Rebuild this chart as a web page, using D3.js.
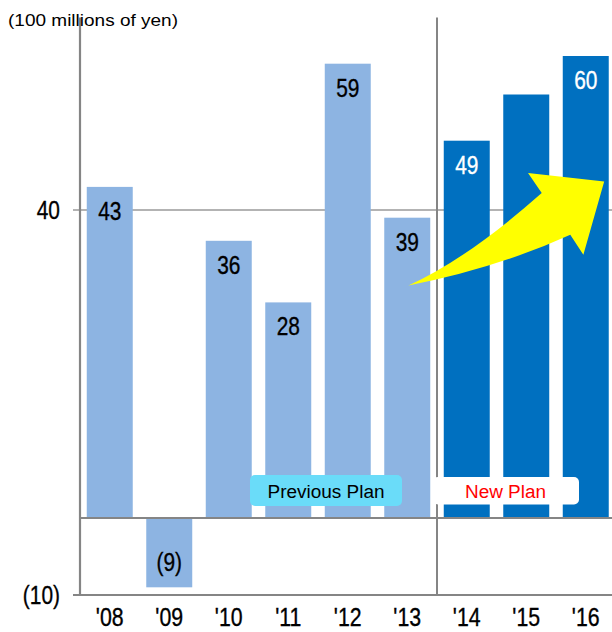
<!DOCTYPE html>
<html>
<head>
<meta charset="utf-8">
<script src="https://cdn.jsdelivr.net/npm/d3@7"></script>
<style>
  html, body { margin: 0; padding: 0; background: #fff; }
  svg { display: block; }
</style>
</head>
<body>
<div id="chart"></div>
<script>
// Fiscal years and results (100 millions of yen)
const years = ["'08", "'09", "'10", "'11", "'12", "'13", "'14", "'15", "'16"];
const values = [43, -9, 36, 28, 59, 39, 49, 55, 60];
const valueLabels = ["43", "(9)", "36", "28", "59", "39", "49", "", "60"];
const plan = ["prev", "prev", "prev", "prev", "prev", "prev", "new", "new", "new"];
const yTicks = [40, 0, -10];
const yTickLabels = ["40", "", "(10)"];
const unitLabel = "(100 millions of yen)";
const legendLabels = ["Previous Plan", "New Plan"];

// Growth arrow outline, as [year index, value] pairs
const arrowTail = [5.02, 30.2];
const arrowUpperCtrl = [6.0, 33.6];
const arrowUpperNotch = [7.26, 42.2];
const arrowUpperBarb = [7.03, 44.8];
const arrowTip = [8.31, 43.7];
const arrowLowerBarb = [7.96, 34.2];
const arrowLowerNotch = [7.74, 36.8];
const arrowLowerCtrl = [6.49, 32.4];

const W = 612, H = 632;
const textFont = "'Liberation Sans', Arial, sans-serif";
const narrow = 0.82; // horizontal squeeze for the condensed numerals
const lightBlue = "#8DB4E2", darkBlue = "#0070C0", gridGray = "#9a9a9a", axisGray = "#858585";

const svg = d3.select("#chart").append("svg").attr("width", W).attr("height", H);

const x = d3.scaleBand().domain(years).range([80, 615.5]).paddingInner(0.227).paddingOuter(0.1135);
const y = d3.scaleLinear().domain([-10, 65]).range([595, 17.5]);
const xi = d3.scaleLinear().domain([0, 1]).range([x(years[0]) + x.bandwidth() / 2, x(years[1]) + x.bandwidth() / 2]);

// Condensed numeral text placed at (px, py)
function numText(sel, px, py, size, anchor) {
  return sel.attr("x", 0).attr("y", 0)
    .attr("transform", (d, i) => `translate(${px(d, i)},${py(d, i)}) scale(${narrow},1)`)
    .attr("text-anchor", anchor)
    .attr("font-family", textFont).attr("font-size", size)
    .attr("stroke-width", 0.35);
}

// Gridline at 40 (with tick stub to the left of the axis)
svg.append("line")
  .attr("x1", 73).attr("x2", W).attr("y1", y(40)).attr("y2", y(40))
  .attr("stroke", gridGray).attr("stroke-width", 1.6);

// Bars
svg.selectAll("rect.bar").data(values).join("rect")
  .attr("class", "bar")
  .attr("x", (d, i) => x(years[i]))
  .attr("width", x.bandwidth())
  .attr("y", d => d >= 0 ? y(d) : y(0) + 1)
  .attr("height", d => Math.abs(y(d) - y(0)) - 1)
  .attr("fill", (d, i) => plan[i] === "prev" ? lightBlue : darkBlue);

// Zero line
svg.append("line")
  .attr("x1", 80).attr("x2", W).attr("y1", y(0)).attr("y2", y(0))
  .attr("stroke", axisGray).attr("stroke-width", 2);

// Bottom line at -10
svg.append("line")
  .attr("x1", 73).attr("x2", W).attr("y1", y(-10)).attr("y2", y(-10))
  .attr("stroke", axisGray).attr("stroke-width", 2);

// Left axis line
svg.append("line")
  .attr("x1", 80).attr("x2", 80).attr("y1", y(65)).attr("y2", y(-10))
  .attr("stroke", axisGray).attr("stroke-width", 2.2);

// Divider between plans
const divX = (x(years[5]) + x.bandwidth() + x(years[6])) / 2;
svg.append("line")
  .attr("x1", divX).attr("x2", divX).attr("y1", y(65)).attr("y2", y(-10))
  .attr("stroke", axisGray).attr("stroke-width", 2);

// Legend badges
const legend = svg.append("g");
legend.append("rect").attr("x", 250).attr("y", 475).attr("width", 152).attr("height", 31)
  .attr("rx", 5).attr("fill", "#6ADCF9");
legend.append("text").attr("x", 326).attr("y", 498).attr("text-anchor", "middle")
  .attr("font-family", textFont).attr("font-size", 18)
  .attr("textLength", 117).attr("lengthAdjust", "spacingAndGlyphs")
  .attr("fill", "#000").text(legendLabels[0]);
legend.append("rect").attr("x", 433).attr("y", 477).attr("width", 146).attr("height", 27.5)
  .attr("rx", 5).attr("fill", "#fff");
legend.append("text").attr("x", 505.5).attr("y", 498).attr("text-anchor", "middle")
  .attr("font-family", textFont).attr("font-size", 18)
  .attr("textLength", 81).attr("lengthAdjust", "spacingAndGlyphs")
  .attr("fill", "#ff0000").text(legendLabels[1]);

// Value labels inside bars
numText(svg.selectAll("text.val").data(values).join("text").attr("class", "val"),
    (d, i) => x(years[i]) + x.bandwidth() / 2,
    d => d >= 0 ? y(d) + 33 : y(d) - 16, 25.5, "middle")
  .attr("fill", (d, i) => plan[i] === "prev" ? "#000" : "#fff")
  .attr("stroke", (d, i) => plan[i] === "prev" ? "#000" : "#fff")
  .text((d, i) => valueLabels[i]);

// Y tick labels
numText(svg.selectAll("text.ytick").data(yTicks).join("text").attr("class", "ytick"),
    () => 60, d => y(d) + 9, 25.5, "end")
  .attr("fill", "#000").attr("stroke", "#000")
  .text((d, i) => yTickLabels[i]);

// Category labels
numText(svg.selectAll("text.cat").data(years).join("text").attr("class", "cat"),
    d => x(d) + x.bandwidth() / 2, () => 626, 26, "middle")
  .attr("fill", "#000").attr("stroke", "#000")
  .text(d => d);

// Unit label
svg.append("text").attr("x", 8).attr("y", 26)
  .attr("font-family", textFont).attr("font-size", 17)
  .attr("textLength", 170).attr("lengthAdjust", "spacingAndGlyphs")
  .attr("fill", "#000").text(unitLabel);

// Growth arrow
const P = p => [xi(p[0]), y(p[1])];
const path = d3.path();
path.moveTo(...P(arrowTail));
path.quadraticCurveTo(...P(arrowUpperCtrl), ...P(arrowUpperNotch));
path.lineTo(...P(arrowUpperBarb));
path.lineTo(...P(arrowTip));
path.lineTo(...P(arrowLowerBarb));
path.lineTo(...P(arrowLowerNotch));
path.quadraticCurveTo(...P(arrowLowerCtrl), ...P(arrowTail));
path.closePath();
svg.append("path").attr("d", path.toString()).attr("fill", "#ffff00");
</script>
</body>
</html>
